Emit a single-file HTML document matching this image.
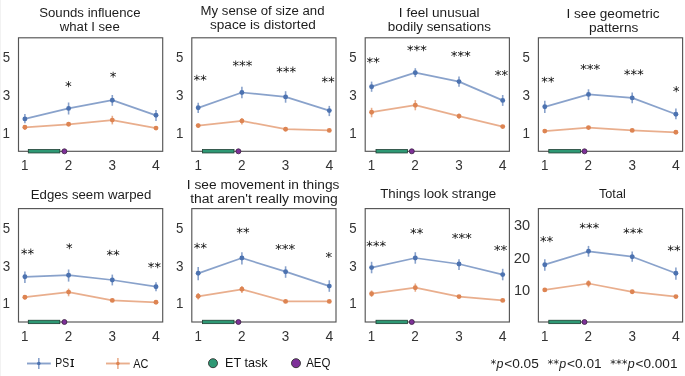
<!DOCTYPE html>
<html><head><meta charset="utf-8"><title>figure</title>
<style>
html,body{margin:0;padding:0;background:#fff;width:685px;height:376px;overflow:hidden}
svg{display:block}
text{font-family:"Liberation Sans",sans-serif;will-change:transform}
</style></head><body>
<svg width="685" height="376" viewBox="0 0 685 376">
<defs><path id="ast" d="M963 1247 604 1053 963 858 905 760 569 963V586H455V963L119 760L61 858L420 1053L61 1247L119 1346L455 1143V1520H569V1143L905 1346Z"/></defs>
<rect x="0" y="0" width="1" height="376" fill="#f2f2f2"/>

<text x="39.2" y="16.8" font-size="12.61" textLength="101.29" lengthAdjust="spacingAndGlyphs" fill="#1c1c1c">Sounds influence</text>
<text x="59.72" y="30.8" font-size="12.61" textLength="60.07" lengthAdjust="spacingAndGlyphs" fill="#1c1c1c">what I see</text>
<text x="2.63" y="61.75" font-size="14.09" textLength="7.36" lengthAdjust="spacingAndGlyphs" fill="#333">5</text>
<text x="2.64" y="99.85" font-size="14.09" textLength="7.49" lengthAdjust="spacingAndGlyphs" fill="#333">3</text>
<text x="2.58" y="137.85" font-size="14.09" textLength="7.45" lengthAdjust="spacingAndGlyphs" fill="#333">1</text>
<text x="21.11" y="169.6" font-size="14.09" textLength="7.45" lengthAdjust="spacingAndGlyphs" fill="#333">1</text>
<text x="64.66" y="169.6" font-size="14.09" textLength="7.52" lengthAdjust="spacingAndGlyphs" fill="#333">2</text>
<text x="108.57" y="169.6" font-size="14.09" textLength="7.49" lengthAdjust="spacingAndGlyphs" fill="#333">3</text>
<text x="152.1" y="169.6" font-size="14.09" textLength="7.8" lengthAdjust="spacingAndGlyphs" fill="#333">4</text>
<polyline fill="none" stroke="rgba(221,132,82,0.66)" stroke-width="1.75" stroke-linejoin="round" points="24.9,127.3 68.6,124.3 112.3,120.1 156,128.1"/>
<line x1="24.9" x2="24.9" y1="125" y2="130" stroke="rgba(221,132,82,0.66)" stroke-width="1.6"/>
<circle cx="24.9" cy="127.3" r="2.45" fill="#dd8452"/>
<line x1="68.6" x2="68.6" y1="122.4" y2="126" stroke="rgba(221,132,82,0.66)" stroke-width="1.6"/>
<circle cx="68.6" cy="124.3" r="2.45" fill="#dd8452"/>
<line x1="112.3" x2="112.3" y1="115.8" y2="124.4" stroke="rgba(221,132,82,0.66)" stroke-width="1.6"/>
<circle cx="112.3" cy="120.1" r="2.45" fill="#dd8452"/>
<line x1="156" x2="156" y1="126.5" y2="129.7" stroke="rgba(221,132,82,0.66)" stroke-width="1.6"/>
<circle cx="156" cy="128.1" r="2.45" fill="#dd8452"/>
<polyline fill="none" stroke="rgba(76,114,176,0.66)" stroke-width="1.75" stroke-linejoin="round" points="24.9,118.9 68.6,108.4 112.3,100.2 156,115.3"/>
<line x1="24.9" x2="24.9" y1="114.1" y2="123.3" stroke="rgba(76,114,176,0.66)" stroke-width="1.6"/>
<circle cx="24.9" cy="118.9" r="2.45" fill="#4c72b0"/>
<line x1="68.6" x2="68.6" y1="102.5" y2="114.5" stroke="rgba(76,114,176,0.66)" stroke-width="1.6"/>
<circle cx="68.6" cy="108.4" r="2.45" fill="#4c72b0"/>
<line x1="112.3" x2="112.3" y1="95" y2="105.8" stroke="rgba(76,114,176,0.66)" stroke-width="1.6"/>
<circle cx="112.3" cy="100.2" r="2.45" fill="#4c72b0"/>
<line x1="156" x2="156" y1="110" y2="121" stroke="rgba(76,114,176,0.66)" stroke-width="1.6"/>
<circle cx="156" cy="115.3" r="2.45" fill="#4c72b0"/>
<use href="#ast" transform="translate(65.08,90.94) scale(0.00649,-0.00649)" fill="#111"/>
<use href="#ast" transform="translate(109.77,81.54) scale(0.00649,-0.00649)" fill="#111"/>
<rect x="18.5" y="37.8" width="144.2" height="113.5" fill="none" stroke="#555" stroke-width="1.15"/>
<rect x="28.3" y="149.55" width="31.5" height="3.4" fill="#2e9874" stroke="#1f3f33" stroke-width="0.8"/>
<circle cx="64.4" cy="151.3" r="2.5" fill="#7e3099" stroke="#3a2040" stroke-width="0.8"/>
<text x="200.62" y="14.9" font-size="12.61" textLength="123.93" lengthAdjust="spacingAndGlyphs" fill="#1c1c1c">My sense of size and</text>
<text x="210.02" y="29.3" font-size="12.61" textLength="105.75" lengthAdjust="spacingAndGlyphs" fill="#1c1c1c">space is distorted</text>
<text x="175.93" y="61.75" font-size="14.09" textLength="7.36" lengthAdjust="spacingAndGlyphs" fill="#333">5</text>
<text x="175.94" y="99.85" font-size="14.09" textLength="7.49" lengthAdjust="spacingAndGlyphs" fill="#333">3</text>
<text x="175.88" y="137.85" font-size="14.09" textLength="7.45" lengthAdjust="spacingAndGlyphs" fill="#333">1</text>
<text x="194.41" y="169.6" font-size="14.09" textLength="7.45" lengthAdjust="spacingAndGlyphs" fill="#333">1</text>
<text x="237.96" y="169.6" font-size="14.09" textLength="7.52" lengthAdjust="spacingAndGlyphs" fill="#333">2</text>
<text x="281.87" y="169.6" font-size="14.09" textLength="7.49" lengthAdjust="spacingAndGlyphs" fill="#333">3</text>
<text x="325.4" y="169.6" font-size="14.09" textLength="7.8" lengthAdjust="spacingAndGlyphs" fill="#333">4</text>
<polyline fill="none" stroke="rgba(221,132,82,0.66)" stroke-width="1.75" stroke-linejoin="round" points="198.2,125.6 241.9,120.9 285.6,129.2 329.3,130.4"/>
<line x1="198.2" x2="198.2" y1="123.5" y2="127.7" stroke="rgba(221,132,82,0.66)" stroke-width="1.6"/>
<circle cx="198.2" cy="125.6" r="2.45" fill="#dd8452"/>
<line x1="241.9" x2="241.9" y1="118" y2="124.4" stroke="rgba(221,132,82,0.66)" stroke-width="1.6"/>
<circle cx="241.9" cy="120.9" r="2.45" fill="#dd8452"/>
<line x1="285.6" x2="285.6" y1="127.5" y2="131" stroke="rgba(221,132,82,0.66)" stroke-width="1.6"/>
<circle cx="285.6" cy="129.2" r="2.45" fill="#dd8452"/>
<line x1="329.3" x2="329.3" y1="128.8" y2="132" stroke="rgba(221,132,82,0.66)" stroke-width="1.6"/>
<circle cx="329.3" cy="130.4" r="2.45" fill="#dd8452"/>
<polyline fill="none" stroke="rgba(76,114,176,0.66)" stroke-width="1.75" stroke-linejoin="round" points="198.2,107.8 241.9,92.5 285.6,96.9 329.3,110.6"/>
<line x1="198.2" x2="198.2" y1="102.7" y2="112.9" stroke="rgba(76,114,176,0.66)" stroke-width="1.6"/>
<circle cx="198.2" cy="107.8" r="2.45" fill="#4c72b0"/>
<line x1="241.9" x2="241.9" y1="86.7" y2="98.2" stroke="rgba(76,114,176,0.66)" stroke-width="1.6"/>
<circle cx="241.9" cy="92.5" r="2.45" fill="#4c72b0"/>
<line x1="285.6" x2="285.6" y1="91.2" y2="102.7" stroke="rgba(76,114,176,0.66)" stroke-width="1.6"/>
<circle cx="285.6" cy="96.9" r="2.45" fill="#4c72b0"/>
<line x1="329.3" x2="329.3" y1="105.9" y2="116.1" stroke="rgba(76,114,176,0.66)" stroke-width="1.6"/>
<circle cx="329.3" cy="110.6" r="2.45" fill="#4c72b0"/>
<use href="#ast" transform="translate(193.55,84.64) scale(0.00649,-0.00649)" fill="#111"/><use href="#ast" transform="translate(200.2,84.64) scale(0.00649,-0.00649)" fill="#111"/>
<use href="#ast" transform="translate(232.43,70.34) scale(0.00649,-0.00649)" fill="#111"/><use href="#ast" transform="translate(239.08,70.34) scale(0.00649,-0.00649)" fill="#111"/><use href="#ast" transform="translate(245.73,70.34) scale(0.00649,-0.00649)" fill="#111"/>
<use href="#ast" transform="translate(276.22,76.44) scale(0.00649,-0.00649)" fill="#111"/><use href="#ast" transform="translate(282.88,76.44) scale(0.00649,-0.00649)" fill="#111"/><use href="#ast" transform="translate(289.52,76.44) scale(0.00649,-0.00649)" fill="#111"/>
<use href="#ast" transform="translate(321.45,86.44) scale(0.00649,-0.00649)" fill="#111"/><use href="#ast" transform="translate(328.1,86.44) scale(0.00649,-0.00649)" fill="#111"/>
<rect x="191.8" y="37.8" width="144.2" height="113.5" fill="none" stroke="#555" stroke-width="1.15"/>
<rect x="202.4" y="149.55" width="31.6" height="3.4" fill="#2e9874" stroke="#1f3f33" stroke-width="0.8"/>
<circle cx="238.4" cy="151.3" r="2.5" fill="#7e3099" stroke="#3a2040" stroke-width="0.8"/>
<text x="398.85" y="16.8" font-size="12.61" textLength="80.76" lengthAdjust="spacingAndGlyphs" fill="#1c1c1c">I feel unusual</text>
<text x="387.83" y="30.5" font-size="12.61" textLength="103.05" lengthAdjust="spacingAndGlyphs" fill="#1c1c1c">bodily sensations</text>
<text x="349.33" y="61.75" font-size="14.09" textLength="7.36" lengthAdjust="spacingAndGlyphs" fill="#333">5</text>
<text x="349.34" y="99.85" font-size="14.09" textLength="7.49" lengthAdjust="spacingAndGlyphs" fill="#333">3</text>
<text x="349.28" y="137.85" font-size="14.09" textLength="7.45" lengthAdjust="spacingAndGlyphs" fill="#333">1</text>
<text x="367.81" y="169.6" font-size="14.09" textLength="7.45" lengthAdjust="spacingAndGlyphs" fill="#333">1</text>
<text x="411.36" y="169.6" font-size="14.09" textLength="7.52" lengthAdjust="spacingAndGlyphs" fill="#333">2</text>
<text x="455.27" y="169.6" font-size="14.09" textLength="7.49" lengthAdjust="spacingAndGlyphs" fill="#333">3</text>
<text x="498.8" y="169.6" font-size="14.09" textLength="7.8" lengthAdjust="spacingAndGlyphs" fill="#333">4</text>
<polyline fill="none" stroke="rgba(221,132,82,0.66)" stroke-width="1.75" stroke-linejoin="round" points="371.6,112.2 415.3,105.2 459,116.1 502.7,126.6"/>
<line x1="371.6" x2="371.6" y1="107.8" y2="117.3" stroke="rgba(221,132,82,0.66)" stroke-width="1.6"/>
<circle cx="371.6" cy="112.2" r="2.45" fill="#dd8452"/>
<line x1="415.3" x2="415.3" y1="100.1" y2="110.3" stroke="rgba(221,132,82,0.66)" stroke-width="1.6"/>
<circle cx="415.3" cy="105.2" r="2.45" fill="#dd8452"/>
<line x1="459" x2="459" y1="113.5" y2="118.7" stroke="rgba(221,132,82,0.66)" stroke-width="1.6"/>
<circle cx="459" cy="116.1" r="2.45" fill="#dd8452"/>
<line x1="502.7" x2="502.7" y1="125" y2="128.2" stroke="rgba(221,132,82,0.66)" stroke-width="1.6"/>
<circle cx="502.7" cy="126.6" r="2.45" fill="#dd8452"/>
<polyline fill="none" stroke="rgba(76,114,176,0.66)" stroke-width="1.75" stroke-linejoin="round" points="371.6,86.7 415.3,72.7 459,81.6 502.7,100.4"/>
<line x1="371.6" x2="371.6" y1="81.6" y2="91.8" stroke="rgba(76,114,176,0.66)" stroke-width="1.6"/>
<circle cx="371.6" cy="86.7" r="2.45" fill="#4c72b0"/>
<line x1="415.3" x2="415.3" y1="68.2" y2="77.1" stroke="rgba(76,114,176,0.66)" stroke-width="1.6"/>
<circle cx="415.3" cy="72.7" r="2.45" fill="#4c72b0"/>
<line x1="459" x2="459" y1="76.5" y2="86.7" stroke="rgba(76,114,176,0.66)" stroke-width="1.6"/>
<circle cx="459" cy="81.6" r="2.45" fill="#4c72b0"/>
<line x1="502.7" x2="502.7" y1="95" y2="105.9" stroke="rgba(76,114,176,0.66)" stroke-width="1.6"/>
<circle cx="502.7" cy="100.4" r="2.45" fill="#4c72b0"/>
<use href="#ast" transform="translate(366.55,67.04) scale(0.00649,-0.00649)" fill="#111"/><use href="#ast" transform="translate(373.2,67.04) scale(0.00649,-0.00649)" fill="#111"/>
<use href="#ast" transform="translate(406.92,55.04) scale(0.00649,-0.00649)" fill="#111"/><use href="#ast" transform="translate(413.57,55.04) scale(0.00649,-0.00649)" fill="#111"/><use href="#ast" transform="translate(420.22,55.04) scale(0.00649,-0.00649)" fill="#111"/>
<use href="#ast" transform="translate(450.82,60.74) scale(0.00649,-0.00649)" fill="#111"/><use href="#ast" transform="translate(457.48,60.74) scale(0.00649,-0.00649)" fill="#111"/><use href="#ast" transform="translate(464.12,60.74) scale(0.00649,-0.00649)" fill="#111"/>
<use href="#ast" transform="translate(494.75,79.84) scale(0.00649,-0.00649)" fill="#111"/><use href="#ast" transform="translate(501.4,79.84) scale(0.00649,-0.00649)" fill="#111"/>
<rect x="365.2" y="37.8" width="144.2" height="113.5" fill="none" stroke="#555" stroke-width="1.15"/>
<rect x="376" y="149.55" width="31.4" height="3.4" fill="#2e9874" stroke="#1f3f33" stroke-width="0.8"/>
<circle cx="411.8" cy="151.3" r="2.5" fill="#7e3099" stroke="#3a2040" stroke-width="0.8"/>
<text x="566.44" y="17.6" font-size="12.61" textLength="93.12" lengthAdjust="spacingAndGlyphs" fill="#1c1c1c">I see geometric</text>
<text x="588.92" y="31.9" font-size="12.61" textLength="49.48" lengthAdjust="spacingAndGlyphs" fill="#1c1c1c">patterns</text>
<text x="522.53" y="61.75" font-size="14.09" textLength="7.36" lengthAdjust="spacingAndGlyphs" fill="#333">5</text>
<text x="522.54" y="99.85" font-size="14.09" textLength="7.49" lengthAdjust="spacingAndGlyphs" fill="#333">3</text>
<text x="522.48" y="137.85" font-size="14.09" textLength="7.45" lengthAdjust="spacingAndGlyphs" fill="#333">1</text>
<text x="541.01" y="169.6" font-size="14.09" textLength="7.45" lengthAdjust="spacingAndGlyphs" fill="#333">1</text>
<text x="584.56" y="169.6" font-size="14.09" textLength="7.52" lengthAdjust="spacingAndGlyphs" fill="#333">2</text>
<text x="628.47" y="169.6" font-size="14.09" textLength="7.49" lengthAdjust="spacingAndGlyphs" fill="#333">3</text>
<text x="672" y="169.6" font-size="14.09" textLength="7.8" lengthAdjust="spacingAndGlyphs" fill="#333">4</text>
<polyline fill="none" stroke="rgba(221,132,82,0.66)" stroke-width="1.75" stroke-linejoin="round" points="544.8,131.1 588.5,127.6 632.2,130.4 675.9,132.3"/>
<line x1="544.8" x2="544.8" y1="129.5" y2="132.7" stroke="rgba(221,132,82,0.66)" stroke-width="1.6"/>
<circle cx="544.8" cy="131.1" r="2.45" fill="#dd8452"/>
<line x1="588.5" x2="588.5" y1="126" y2="129.2" stroke="rgba(221,132,82,0.66)" stroke-width="1.6"/>
<circle cx="588.5" cy="127.6" r="2.45" fill="#dd8452"/>
<line x1="632.2" x2="632.2" y1="128.8" y2="132" stroke="rgba(221,132,82,0.66)" stroke-width="1.6"/>
<circle cx="632.2" cy="130.4" r="2.45" fill="#dd8452"/>
<line x1="675.9" x2="675.9" y1="130.7" y2="133.9" stroke="rgba(221,132,82,0.66)" stroke-width="1.6"/>
<circle cx="675.9" cy="132.3" r="2.45" fill="#dd8452"/>
<polyline fill="none" stroke="rgba(76,114,176,0.66)" stroke-width="1.75" stroke-linejoin="round" points="544.8,106.8 588.5,94.4 632.2,97.9 675.9,114.2"/>
<line x1="544.8" x2="544.8" y1="100.8" y2="112.9" stroke="rgba(76,114,176,0.66)" stroke-width="1.6"/>
<circle cx="544.8" cy="106.8" r="2.45" fill="#4c72b0"/>
<line x1="588.5" x2="588.5" y1="89.3" y2="100.1" stroke="rgba(76,114,176,0.66)" stroke-width="1.6"/>
<circle cx="588.5" cy="94.4" r="2.45" fill="#4c72b0"/>
<line x1="632.2" x2="632.2" y1="92.5" y2="103.3" stroke="rgba(76,114,176,0.66)" stroke-width="1.6"/>
<circle cx="632.2" cy="97.9" r="2.45" fill="#4c72b0"/>
<line x1="675.9" x2="675.9" y1="108.4" y2="119.3" stroke="rgba(76,114,176,0.66)" stroke-width="1.6"/>
<circle cx="675.9" cy="114.2" r="2.45" fill="#4c72b0"/>
<use href="#ast" transform="translate(541.25,86.54) scale(0.00649,-0.00649)" fill="#111"/><use href="#ast" transform="translate(547.9,86.54) scale(0.00649,-0.00649)" fill="#111"/>
<use href="#ast" transform="translate(580.23,73.84) scale(0.00649,-0.00649)" fill="#111"/><use href="#ast" transform="translate(586.88,73.84) scale(0.00649,-0.00649)" fill="#111"/><use href="#ast" transform="translate(593.52,73.84) scale(0.00649,-0.00649)" fill="#111"/>
<use href="#ast" transform="translate(623.82,79.14) scale(0.00649,-0.00649)" fill="#111"/><use href="#ast" transform="translate(630.47,79.14) scale(0.00649,-0.00649)" fill="#111"/><use href="#ast" transform="translate(637.12,79.14) scale(0.00649,-0.00649)" fill="#111"/>
<use href="#ast" transform="translate(672.88,95.94) scale(0.00649,-0.00649)" fill="#111"/>
<rect x="538.4" y="37.8" width="144.2" height="113.5" fill="none" stroke="#555" stroke-width="1.15"/>
<rect x="548.8" y="149.55" width="31.6" height="3.4" fill="#2e9874" stroke="#1f3f33" stroke-width="0.8"/>
<circle cx="584.5" cy="151.3" r="2.5" fill="#7e3099" stroke="#3a2040" stroke-width="0.8"/>
<text x="30.72" y="199" font-size="12.61" textLength="120.54" lengthAdjust="spacingAndGlyphs" fill="#1c1c1c">Edges seem warped</text>
<text x="2.63" y="232.85" font-size="14.09" textLength="7.36" lengthAdjust="spacingAndGlyphs" fill="#333">5</text>
<text x="2.64" y="270.65" font-size="14.09" textLength="7.49" lengthAdjust="spacingAndGlyphs" fill="#333">3</text>
<text x="2.58" y="308.45" font-size="14.09" textLength="7.45" lengthAdjust="spacingAndGlyphs" fill="#333">1</text>
<text x="21.11" y="340.8" font-size="14.09" textLength="7.45" lengthAdjust="spacingAndGlyphs" fill="#333">1</text>
<text x="64.66" y="340.8" font-size="14.09" textLength="7.52" lengthAdjust="spacingAndGlyphs" fill="#333">2</text>
<text x="108.57" y="340.8" font-size="14.09" textLength="7.49" lengthAdjust="spacingAndGlyphs" fill="#333">3</text>
<text x="152.1" y="340.8" font-size="14.09" textLength="7.8" lengthAdjust="spacingAndGlyphs" fill="#333">4</text>
<polyline fill="none" stroke="rgba(221,132,82,0.66)" stroke-width="1.75" stroke-linejoin="round" points="24.9,297.2 68.6,292.1 112.3,300.4 156,302.3"/>
<line x1="24.9" x2="24.9" y1="295" y2="299.4" stroke="rgba(221,132,82,0.66)" stroke-width="1.6"/>
<circle cx="24.9" cy="297.2" r="2.45" fill="#dd8452"/>
<line x1="68.6" x2="68.6" y1="288.6" y2="296.3" stroke="rgba(221,132,82,0.66)" stroke-width="1.6"/>
<circle cx="68.6" cy="292.1" r="2.45" fill="#dd8452"/>
<line x1="112.3" x2="112.3" y1="298.8" y2="302" stroke="rgba(221,132,82,0.66)" stroke-width="1.6"/>
<circle cx="112.3" cy="300.4" r="2.45" fill="#dd8452"/>
<line x1="156" x2="156" y1="300.7" y2="303.9" stroke="rgba(221,132,82,0.66)" stroke-width="1.6"/>
<circle cx="156" cy="302.3" r="2.45" fill="#dd8452"/>
<polyline fill="none" stroke="rgba(76,114,176,0.66)" stroke-width="1.75" stroke-linejoin="round" points="24.9,276.8 68.6,275.2 112.3,280 156,286.7"/>
<line x1="24.9" x2="24.9" y1="271.4" y2="282.9" stroke="rgba(76,114,176,0.66)" stroke-width="1.6"/>
<circle cx="24.9" cy="276.8" r="2.45" fill="#4c72b0"/>
<line x1="68.6" x2="68.6" y1="269.5" y2="281.6" stroke="rgba(76,114,176,0.66)" stroke-width="1.6"/>
<circle cx="68.6" cy="275.2" r="2.45" fill="#4c72b0"/>
<line x1="112.3" x2="112.3" y1="274.6" y2="285.4" stroke="rgba(76,114,176,0.66)" stroke-width="1.6"/>
<circle cx="112.3" cy="280" r="2.45" fill="#4c72b0"/>
<line x1="156" x2="156" y1="282.2" y2="291.2" stroke="rgba(76,114,176,0.66)" stroke-width="1.6"/>
<circle cx="156" cy="286.7" r="2.45" fill="#4c72b0"/>
<use href="#ast" transform="translate(20.85,258.44) scale(0.00649,-0.00649)" fill="#111"/><use href="#ast" transform="translate(27.5,258.44) scale(0.00649,-0.00649)" fill="#111"/>
<use href="#ast" transform="translate(65.97,253.04) scale(0.00649,-0.00649)" fill="#111"/>
<use href="#ast" transform="translate(106.45,259.64) scale(0.00649,-0.00649)" fill="#111"/><use href="#ast" transform="translate(113.1,259.64) scale(0.00649,-0.00649)" fill="#111"/>
<use href="#ast" transform="translate(147.75,272.04) scale(0.00649,-0.00649)" fill="#111"/><use href="#ast" transform="translate(154.4,272.04) scale(0.00649,-0.00649)" fill="#111"/>
<rect x="18.5" y="208.6" width="144.2" height="113.4" fill="none" stroke="#555" stroke-width="1.15"/>
<rect x="28.3" y="320.25" width="31.5" height="3.4" fill="#2e9874" stroke="#1f3f33" stroke-width="0.8"/>
<circle cx="64.4" cy="322" r="2.5" fill="#7e3099" stroke="#3a2040" stroke-width="0.8"/>
<text x="186.83" y="189.1" font-size="12.61" textLength="152.56" lengthAdjust="spacingAndGlyphs" fill="#1c1c1c">I see movement in things</text>
<text x="190.19" y="202.8" font-size="12.61" textLength="147.71" lengthAdjust="spacingAndGlyphs" fill="#1c1c1c">that aren't really moving</text>
<text x="175.93" y="232.85" font-size="14.09" textLength="7.36" lengthAdjust="spacingAndGlyphs" fill="#333">5</text>
<text x="175.94" y="270.65" font-size="14.09" textLength="7.49" lengthAdjust="spacingAndGlyphs" fill="#333">3</text>
<text x="175.88" y="308.45" font-size="14.09" textLength="7.45" lengthAdjust="spacingAndGlyphs" fill="#333">1</text>
<text x="194.41" y="340.8" font-size="14.09" textLength="7.45" lengthAdjust="spacingAndGlyphs" fill="#333">1</text>
<text x="237.96" y="340.8" font-size="14.09" textLength="7.52" lengthAdjust="spacingAndGlyphs" fill="#333">2</text>
<text x="281.87" y="340.8" font-size="14.09" textLength="7.49" lengthAdjust="spacingAndGlyphs" fill="#333">3</text>
<text x="325.4" y="340.8" font-size="14.09" textLength="7.8" lengthAdjust="spacingAndGlyphs" fill="#333">4</text>
<polyline fill="none" stroke="rgba(221,132,82,0.66)" stroke-width="1.75" stroke-linejoin="round" points="198.2,296.3 241.9,289.3 285.6,301.4 329.3,301.4"/>
<line x1="198.2" x2="198.2" y1="293.1" y2="299.5" stroke="rgba(221,132,82,0.66)" stroke-width="1.6"/>
<circle cx="198.2" cy="296.3" r="2.45" fill="#dd8452"/>
<line x1="241.9" x2="241.9" y1="286.1" y2="293.1" stroke="rgba(221,132,82,0.66)" stroke-width="1.6"/>
<circle cx="241.9" cy="289.3" r="2.45" fill="#dd8452"/>
<line x1="285.6" x2="285.6" y1="299.8" y2="303" stroke="rgba(221,132,82,0.66)" stroke-width="1.6"/>
<circle cx="285.6" cy="301.4" r="2.45" fill="#dd8452"/>
<line x1="329.3" x2="329.3" y1="299.8" y2="303" stroke="rgba(221,132,82,0.66)" stroke-width="1.6"/>
<circle cx="329.3" cy="301.4" r="2.45" fill="#dd8452"/>
<polyline fill="none" stroke="rgba(76,114,176,0.66)" stroke-width="1.75" stroke-linejoin="round" points="198.2,273.3 241.9,258 285.6,271.7 329.3,286.1"/>
<line x1="198.2" x2="198.2" y1="266.9" y2="280.3" stroke="rgba(76,114,176,0.66)" stroke-width="1.6"/>
<circle cx="198.2" cy="273.3" r="2.45" fill="#4c72b0"/>
<line x1="241.9" x2="241.9" y1="252.2" y2="264.4" stroke="rgba(76,114,176,0.66)" stroke-width="1.6"/>
<circle cx="241.9" cy="258" r="2.45" fill="#4c72b0"/>
<line x1="285.6" x2="285.6" y1="266.3" y2="277.8" stroke="rgba(76,114,176,0.66)" stroke-width="1.6"/>
<circle cx="285.6" cy="271.7" r="2.45" fill="#4c72b0"/>
<line x1="329.3" x2="329.3" y1="280.3" y2="291.8" stroke="rgba(76,114,176,0.66)" stroke-width="1.6"/>
<circle cx="329.3" cy="286.1" r="2.45" fill="#4c72b0"/>
<use href="#ast" transform="translate(193.75,252.64) scale(0.00649,-0.00649)" fill="#111"/><use href="#ast" transform="translate(200.4,252.64) scale(0.00649,-0.00649)" fill="#111"/>
<use href="#ast" transform="translate(236.35,237.24) scale(0.00649,-0.00649)" fill="#111"/><use href="#ast" transform="translate(243,237.24) scale(0.00649,-0.00649)" fill="#111"/>
<use href="#ast" transform="translate(275.22,253.84) scale(0.00649,-0.00649)" fill="#111"/><use href="#ast" transform="translate(281.88,253.84) scale(0.00649,-0.00649)" fill="#111"/><use href="#ast" transform="translate(288.52,253.84) scale(0.00649,-0.00649)" fill="#111"/>
<use href="#ast" transform="translate(325.48,261.84) scale(0.00649,-0.00649)" fill="#111"/>
<rect x="191.8" y="208.6" width="144.2" height="113.4" fill="none" stroke="#555" stroke-width="1.15"/>
<rect x="202.4" y="320.25" width="31.6" height="3.4" fill="#2e9874" stroke="#1f3f33" stroke-width="0.8"/>
<circle cx="238.4" cy="322" r="2.5" fill="#7e3099" stroke="#3a2040" stroke-width="0.8"/>
<text x="380.2" y="197.7" font-size="12.61" textLength="115.99" lengthAdjust="spacingAndGlyphs" fill="#1c1c1c">Things look strange</text>
<text x="349.33" y="232.85" font-size="14.09" textLength="7.36" lengthAdjust="spacingAndGlyphs" fill="#333">5</text>
<text x="349.34" y="270.65" font-size="14.09" textLength="7.49" lengthAdjust="spacingAndGlyphs" fill="#333">3</text>
<text x="349.28" y="308.45" font-size="14.09" textLength="7.45" lengthAdjust="spacingAndGlyphs" fill="#333">1</text>
<text x="367.81" y="340.8" font-size="14.09" textLength="7.45" lengthAdjust="spacingAndGlyphs" fill="#333">1</text>
<text x="411.36" y="340.8" font-size="14.09" textLength="7.52" lengthAdjust="spacingAndGlyphs" fill="#333">2</text>
<text x="455.27" y="340.8" font-size="14.09" textLength="7.49" lengthAdjust="spacingAndGlyphs" fill="#333">3</text>
<text x="498.8" y="340.8" font-size="14.09" textLength="7.8" lengthAdjust="spacingAndGlyphs" fill="#333">4</text>
<polyline fill="none" stroke="rgba(221,132,82,0.66)" stroke-width="1.75" stroke-linejoin="round" points="371.6,293.7 415.3,287.7 459,296.6 502.7,300.4"/>
<line x1="371.6" x2="371.6" y1="290.5" y2="296.9" stroke="rgba(221,132,82,0.66)" stroke-width="1.6"/>
<circle cx="371.6" cy="293.7" r="2.45" fill="#dd8452"/>
<line x1="415.3" x2="415.3" y1="283.5" y2="291.8" stroke="rgba(221,132,82,0.66)" stroke-width="1.6"/>
<circle cx="415.3" cy="287.7" r="2.45" fill="#dd8452"/>
<line x1="459" x2="459" y1="295" y2="298.2" stroke="rgba(221,132,82,0.66)" stroke-width="1.6"/>
<circle cx="459" cy="296.6" r="2.45" fill="#dd8452"/>
<line x1="502.7" x2="502.7" y1="298.8" y2="302" stroke="rgba(221,132,82,0.66)" stroke-width="1.6"/>
<circle cx="502.7" cy="300.4" r="2.45" fill="#dd8452"/>
<polyline fill="none" stroke="rgba(76,114,176,0.66)" stroke-width="1.75" stroke-linejoin="round" points="371.6,267.6 415.3,258 459,264 502.7,274.6"/>
<line x1="371.6" x2="371.6" y1="261.8" y2="273.3" stroke="rgba(76,114,176,0.66)" stroke-width="1.6"/>
<circle cx="371.6" cy="267.6" r="2.45" fill="#4c72b0"/>
<line x1="415.3" x2="415.3" y1="252.2" y2="263.7" stroke="rgba(76,114,176,0.66)" stroke-width="1.6"/>
<circle cx="415.3" cy="258" r="2.45" fill="#4c72b0"/>
<line x1="459" x2="459" y1="259.3" y2="270.1" stroke="rgba(76,114,176,0.66)" stroke-width="1.6"/>
<circle cx="459" cy="264" r="2.45" fill="#4c72b0"/>
<line x1="502.7" x2="502.7" y1="268.8" y2="280.3" stroke="rgba(76,114,176,0.66)" stroke-width="1.6"/>
<circle cx="502.7" cy="274.6" r="2.45" fill="#4c72b0"/>
<use href="#ast" transform="translate(366.22,250.64) scale(0.00649,-0.00649)" fill="#111"/><use href="#ast" transform="translate(372.88,250.64) scale(0.00649,-0.00649)" fill="#111"/><use href="#ast" transform="translate(379.52,250.64) scale(0.00649,-0.00649)" fill="#111"/>
<use href="#ast" transform="translate(410.05,237.94) scale(0.00649,-0.00649)" fill="#111"/><use href="#ast" transform="translate(416.7,237.94) scale(0.00649,-0.00649)" fill="#111"/>
<use href="#ast" transform="translate(451.82,242.84) scale(0.00649,-0.00649)" fill="#111"/><use href="#ast" transform="translate(458.48,242.84) scale(0.00649,-0.00649)" fill="#111"/><use href="#ast" transform="translate(465.12,242.84) scale(0.00649,-0.00649)" fill="#111"/>
<use href="#ast" transform="translate(493.95,254.84) scale(0.00649,-0.00649)" fill="#111"/><use href="#ast" transform="translate(500.6,254.84) scale(0.00649,-0.00649)" fill="#111"/>
<rect x="365.2" y="208.6" width="144.2" height="113.4" fill="none" stroke="#555" stroke-width="1.15"/>
<rect x="376" y="320.25" width="31.4" height="3.4" fill="#2e9874" stroke="#1f3f33" stroke-width="0.8"/>
<circle cx="411.8" cy="322" r="2.5" fill="#7e3099" stroke="#3a2040" stroke-width="0.8"/>
<text x="598.93" y="197.7" font-size="12.61" textLength="26.88" lengthAdjust="spacingAndGlyphs" fill="#1c1c1c">Total</text>
<text x="514.04" y="229.75" font-size="14.09" textLength="16.15" lengthAdjust="spacingAndGlyphs" fill="#333">30</text>
<text x="513.81" y="262.65" font-size="14.09" textLength="16.38" lengthAdjust="spacingAndGlyphs" fill="#333">20</text>
<text x="513.92" y="295.05" font-size="14.09" textLength="16.26" lengthAdjust="spacingAndGlyphs" fill="#333">10</text>
<text x="541.01" y="340.8" font-size="14.09" textLength="7.45" lengthAdjust="spacingAndGlyphs" fill="#333">1</text>
<text x="584.56" y="340.8" font-size="14.09" textLength="7.52" lengthAdjust="spacingAndGlyphs" fill="#333">2</text>
<text x="628.47" y="340.8" font-size="14.09" textLength="7.49" lengthAdjust="spacingAndGlyphs" fill="#333">3</text>
<text x="672" y="340.8" font-size="14.09" textLength="7.8" lengthAdjust="spacingAndGlyphs" fill="#333">4</text>
<polyline fill="none" stroke="rgba(221,132,82,0.66)" stroke-width="1.75" stroke-linejoin="round" points="544.8,289.9 588.5,283.5 632.2,291.8 675.9,296.6"/>
<line x1="544.8" x2="544.8" y1="288.3" y2="291.5" stroke="rgba(221,132,82,0.66)" stroke-width="1.6"/>
<circle cx="544.8" cy="289.9" r="2.45" fill="#dd8452"/>
<line x1="588.5" x2="588.5" y1="280.3" y2="287.3" stroke="rgba(221,132,82,0.66)" stroke-width="1.6"/>
<circle cx="588.5" cy="283.5" r="2.45" fill="#dd8452"/>
<line x1="632.2" x2="632.2" y1="290.2" y2="293.4" stroke="rgba(221,132,82,0.66)" stroke-width="1.6"/>
<circle cx="632.2" cy="291.8" r="2.45" fill="#dd8452"/>
<line x1="675.9" x2="675.9" y1="295" y2="298.2" stroke="rgba(221,132,82,0.66)" stroke-width="1.6"/>
<circle cx="675.9" cy="296.6" r="2.45" fill="#dd8452"/>
<polyline fill="none" stroke="rgba(76,114,176,0.66)" stroke-width="1.75" stroke-linejoin="round" points="544.8,264.7 588.5,251.3 632.2,256.7 675.9,273.3"/>
<line x1="544.8" x2="544.8" y1="259.3" y2="270.8" stroke="rgba(76,114,176,0.66)" stroke-width="1.6"/>
<circle cx="544.8" cy="264.7" r="2.45" fill="#4c72b0"/>
<line x1="588.5" x2="588.5" y1="245.9" y2="256.7" stroke="rgba(76,114,176,0.66)" stroke-width="1.6"/>
<circle cx="588.5" cy="251.3" r="2.45" fill="#4c72b0"/>
<line x1="632.2" x2="632.2" y1="251.6" y2="261.8" stroke="rgba(76,114,176,0.66)" stroke-width="1.6"/>
<circle cx="632.2" cy="256.7" r="2.45" fill="#4c72b0"/>
<line x1="675.9" x2="675.9" y1="267.6" y2="279.7" stroke="rgba(76,114,176,0.66)" stroke-width="1.6"/>
<circle cx="675.9" cy="273.3" r="2.45" fill="#4c72b0"/>
<use href="#ast" transform="translate(539.95,245.94) scale(0.00649,-0.00649)" fill="#111"/><use href="#ast" transform="translate(546.6,245.94) scale(0.00649,-0.00649)" fill="#111"/>
<use href="#ast" transform="translate(579.32,232.64) scale(0.00649,-0.00649)" fill="#111"/><use href="#ast" transform="translate(585.97,232.64) scale(0.00649,-0.00649)" fill="#111"/><use href="#ast" transform="translate(592.62,232.64) scale(0.00649,-0.00649)" fill="#111"/>
<use href="#ast" transform="translate(623.12,237.64) scale(0.00649,-0.00649)" fill="#111"/><use href="#ast" transform="translate(629.77,237.64) scale(0.00649,-0.00649)" fill="#111"/><use href="#ast" transform="translate(636.42,237.64) scale(0.00649,-0.00649)" fill="#111"/>
<use href="#ast" transform="translate(667.35,255.14) scale(0.00649,-0.00649)" fill="#111"/><use href="#ast" transform="translate(674,255.14) scale(0.00649,-0.00649)" fill="#111"/>
<rect x="538.4" y="208.6" width="144.2" height="113.4" fill="none" stroke="#555" stroke-width="1.15"/>
<rect x="548.8" y="320.25" width="31.6" height="3.4" fill="#2e9874" stroke="#1f3f33" stroke-width="0.8"/>
<circle cx="584.5" cy="322" r="2.5" fill="#7e3099" stroke="#3a2040" stroke-width="0.8"/>
<line x1="27" x2="50.8" y1="363.5" y2="363.5" stroke="rgba(76,114,176,0.66)" stroke-width="1.9"/>
<line x1="38.8" x2="38.8" y1="358.1" y2="368.9" stroke="rgba(76,114,176,0.66)" stroke-width="1.6"/>
<circle cx="38.8" cy="363.5" r="1.8" fill="#4c72b0"/>
<line x1="106" x2="129.8" y1="363.5" y2="363.5" stroke="rgba(221,132,82,0.66)" stroke-width="1.9"/>
<line x1="117.9" x2="117.9" y1="358.1" y2="368.9" stroke="rgba(221,132,82,0.66)" stroke-width="1.6"/>
<circle cx="117.9" cy="363.5" r="1.8" fill="#dd8452"/>
<text x="55.35" y="367" font-size="12.29" textLength="13.83" lengthAdjust="spacingAndGlyphs" fill="#141414">PS</text>
<path d="M70.5,358.9H73.9V359.9H72.85V366H73.9V367H70.5V366H71.6V359.9H70.5Z" fill="#0a0a0a"/>
<text x="133.18" y="367.8" font-size="12.29" textLength="15.14" lengthAdjust="spacingAndGlyphs" fill="#141414">AC</text>
<text x="224.97" y="366.9" font-size="12.29" textLength="42.61" lengthAdjust="spacingAndGlyphs" fill="#141414">ET task</text>
<text x="306.18" y="367" font-size="12.29" textLength="24.27" lengthAdjust="spacingAndGlyphs" fill="#141414">AEQ</text>
<circle cx="213.0" cy="363.2" r="4.5" fill="#2e9874" stroke="#333" stroke-width="0.9"/>
<circle cx="296.0" cy="363.2" r="4.5" fill="#7e3099" stroke="#333" stroke-width="0.9"/>
<use href="#ast" transform="translate(490.5,367.9) scale(0.00566,-0.00566)" fill="#111"/><text x="496.58" y="367.9" font-size="12.29" textLength="6.96" lengthAdjust="spacingAndGlyphs" fill="#1c1c1c" font-style="italic">p</text><text x="504.22" y="367.9" font-size="12.29" textLength="34.55" lengthAdjust="spacingAndGlyphs" fill="#1c1c1c">&lt;0.05</text>
<use href="#ast" transform="translate(547.5,367.9) scale(0.00566,-0.00566)" fill="#111"/><use href="#ast" transform="translate(553.3,367.9) scale(0.00566,-0.00566)" fill="#111"/><text x="559.38" y="367.9" font-size="12.29" textLength="6.96" lengthAdjust="spacingAndGlyphs" fill="#1c1c1c" font-style="italic">p</text><text x="567.02" y="367.9" font-size="12.29" textLength="34.59" lengthAdjust="spacingAndGlyphs" fill="#1c1c1c">&lt;0.01</text>
<use href="#ast" transform="translate(610.2,367.9) scale(0.00566,-0.00566)" fill="#111"/><use href="#ast" transform="translate(616,367.9) scale(0.00566,-0.00566)" fill="#111"/><use href="#ast" transform="translate(621.8,367.9) scale(0.00566,-0.00566)" fill="#111"/><text x="627.88" y="367.9" font-size="12.29" textLength="6.96" lengthAdjust="spacingAndGlyphs" fill="#1c1c1c" font-style="italic">p</text><text x="635.52" y="367.9" font-size="12.29" textLength="41.96" lengthAdjust="spacingAndGlyphs" fill="#1c1c1c">&lt;0.001</text>
</svg></body></html>
